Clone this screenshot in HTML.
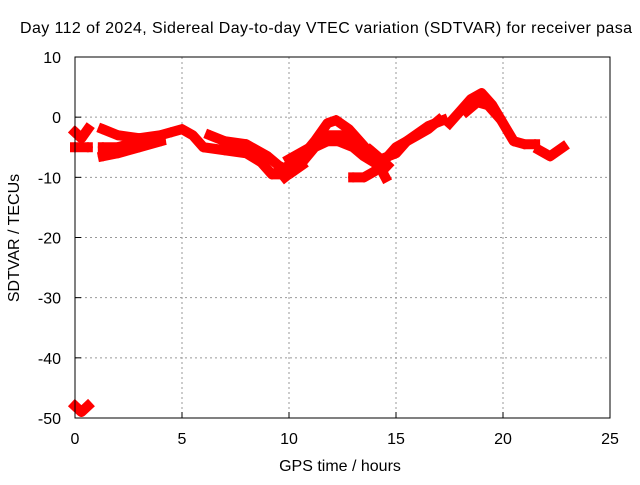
<!DOCTYPE html>
<html><head><meta charset="utf-8"><style>
body{margin:0;background:#fff}
svg text{font-family:"Liberation Sans",sans-serif;font-size:16px;fill:#000}
</style></head><body>
<svg id="c" width="640" height="480">
<rect width="640" height="480" fill="#fff"/>
<text x="326" y="33" text-anchor="middle" textLength="612">Day 112 of 2024, Sidereal Day-to-day VTEC variation (SDTVAR) for receiver pasa</text>
<text x="340" y="471" text-anchor="middle">GPS time / hours</text>
<text transform="translate(19,238) rotate(-90)" text-anchor="middle">SDTVAR / TECUs</text>
<g id="grid"></g><g id="marks"></g>
<rect x="75" y="57" width="535" height="361" fill="none" stroke="#000"/>
</svg>
<script>
const xTicks=[0,5,10,15,20,25];
const yTicks=[10,0,-10,-20,-30,-40,-50];
const trackA=[[0,-2.5],[0.3,-3.5],[0.6,-2]];
const trackB=[[0,-5],[0.6,-5]];
const trackBottom=[[0,-48],[0.3,-49],[0.6,-48]];
const trackC=[[1.3,-2],[2,-3],[3,-3.5],[4,-3],[4.5,-2.5],[5,-2],[5.5,-3],[6,-5],[7,-5.5],[8,-6],[8.7,-7.5],[9.2,-9.5],[10,-9.5],[10.6,-8]];
const trackD=[[1.3,-5],[2,-5],[3,-4],[4,-3.5]];
const trackE=[[1.3,-6.5],[2,-6],[3,-5],[4,-4]];
const trackF=[[6.3,-3],[7,-4],[8,-4.5],[9,-6.5],[9.5,-8],[10,-9]];
const trackG=[[9.5,-9],[10.5,-7],[11.2,-4],[11.8,-1],[12.2,-0.5],[12.8,-2],[13.3,-4],[13.8,-6],[14.3,-7],[14.6,-8]];
const trackH=[[9.8,-10],[10.5,-8],[11.2,-5],[11.8,-4],[12.3,-4],[13,-5],[13.5,-6.5],[14.2,-8],[14.5,-10]];
const trackI=[[10,-7],[11,-5],[11.8,-3],[12.5,-3],[13.2,-5],[14,-7]];
const trackJ=[[13,-10],[13.5,-10],[14,-9],[14.5,-7],[15,-5],[16,-3],[16.5,-2],[17,-0.5]];
const trackK=[[13.8,-5.5],[14.3,-7],[15,-6],[15.5,-4],[16.5,-1.5],[17.2,-0.5]];
const trackL=[[17.5,-1],[18,1],[18.5,3],[19,4],[19.5,2],[20,-1],[20.5,-4],[21,-4.5],[21.5,-4.5]];
const trackM=[[18.3,1],[18.8,2.5],[19.3,2],[19.8,0]];
const trackN=[[21.7,-5.5],[22.2,-6.5],[22.8,-5]];
const tracks=[trackA,trackB,trackBottom,trackC,trackD,trackE,trackF,trackG,trackH,trackI,trackJ,trackK,trackL,trackM,trackN];
const X=h=>75+h*535/25, Y=v=>57+(10-v)*361/60;
const NS='http://www.w3.org/2000/svg';
const g=document.getElementById('grid'), m=document.getElementById('marks');
function el(t,a,p){const e=document.createElementNS(NS,t);for(const k in a)e.setAttribute(k,a[k]);p.appendChild(e);return e;}
xTicks.forEach(t=>{
 if(t>0&&t<25){const l=el('line',{x1:X(t),x2:X(t),y1:57,y2:418,stroke:'#999','stroke-dasharray':'2,3'},g);
 
 }
 const tk=el('line',{x1:X(t),x2:X(t),y1:418,y2:412,stroke:'#000'},g);
 
 
 const tx=el('text',{x:X(t),y:444,'text-anchor':'middle'},g);tx.textContent=t;
 
 
});
yTicks.forEach(t=>{
 if(t<10&&t>-50){const l=el('line',{x1:75,x2:610,y1:Y(t),y2:Y(t),stroke:'#999','stroke-dasharray':'2,3'},g);
 
 }
 const tk=el('line',{x1:75,x2:81,y1:Y(t),y2:Y(t),stroke:'#000'},g);
 
 
 const tx=el('text',{x:61,y:Y(t)+6,'text-anchor':'end'},g);tx.textContent=t;
 
 
});
tracks.forEach(tr=>{
 const p=el('polyline',{points:tr.map(d=>X(d[0])+','+Y(d[1])).join(' '),fill:'none',stroke:'#f00','stroke-width':10,'stroke-linejoin':'round','stroke-linecap':'square'},m);
 
 
 tr.forEach(d=>{
  const pl=el('path',{d:`M${X(d[0])-5},${Y(d[1])}h10M${X(d[0])},${Y(d[1])-5}v10`,stroke:'#f00','stroke-width':2},m);
  
  
 });
});
</script>
</body></html>
